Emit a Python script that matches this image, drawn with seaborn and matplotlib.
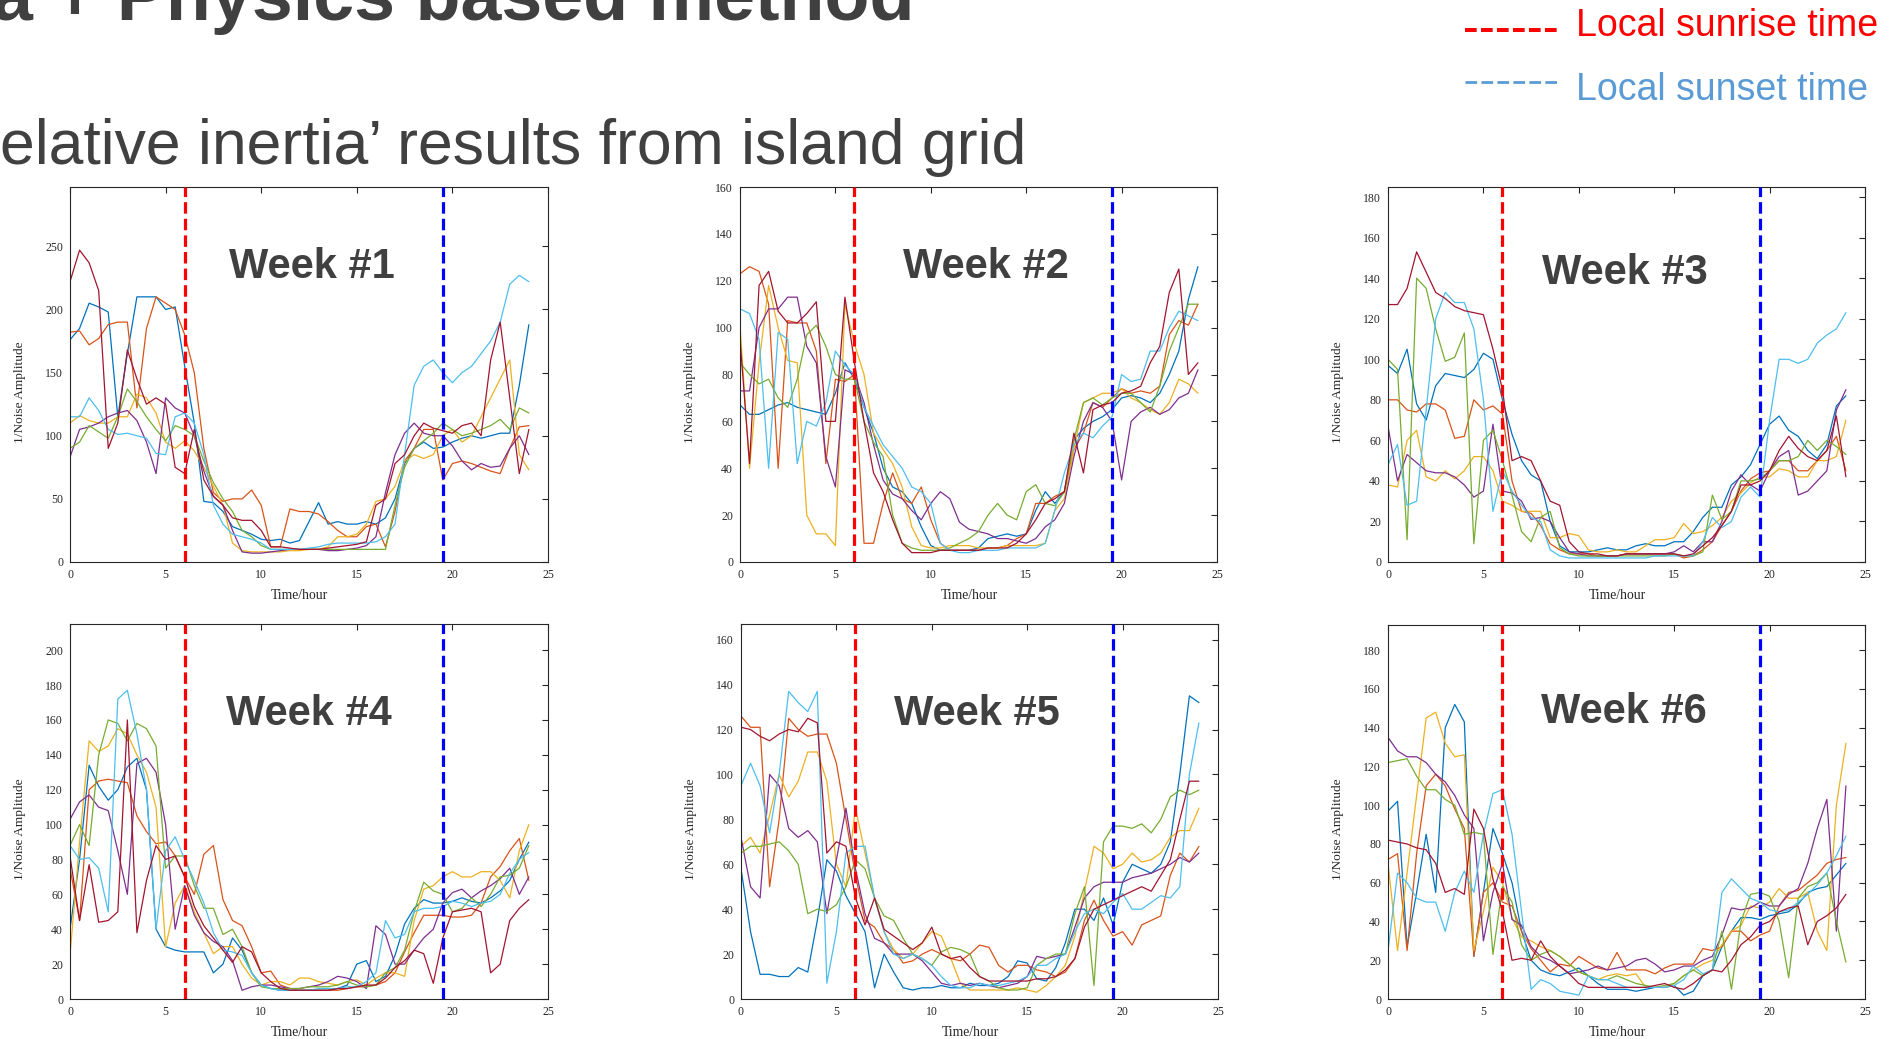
import numpy as np
import pandas as pd
import matplotlib
matplotlib.use("Agg")
import matplotlib.pyplot as plt
import seaborn as sns
from matplotlib.lines import Line2D

# ---------------- data ----------------
HOURS = np.arange(0, 24.01, 0.5)          # sampling grid (49 points)
SERIES_NAMES = ["blue", "orange", "yellow", "purple", "green", "lightblue", "darkred"]
SERIES_COLORS = ["#0072BD", "#D95319", "#EDB120", "#7E2F8E", "#77AC30", "#4DBEEE", "#A2142F"]
WEEK_LABELS = ["Week #1", "Week #2", "Week #3", "Week #4", "Week #5", "Week #6"]
Y_MAX = [297, 160, 185, 215, 167, 193]
Y_TICKS = [list(range(0, 251, 50)), list(range(0, 161, 20)), list(range(0, 181, 20)),
           list(range(0, 201, 20)), list(range(0, 161, 20)), list(range(0, 181, 20))]
X_TICKS = [0, 5, 10, 15, 20, 25]
SUNRISE_HOUR = 6.0
SUNSET_HOUR = 19.5

# Week 1
W1_BLUE = [176,185,205,202,198,115,165,210,210,210, 200,202,155,110,48,47,40,28,25,22,
           18,17,18,15,17,32,47,30,32,30, 30,32,30,35,50,78,90,95,90,91,
           95,98,100,98,100,102,102,140,188]
W1_ORANGE = [182,183,172,177,188,190,190,122,185,210, 205,200,180,150,90,55,48,50,50,57,
             45,12,12,42,40,40,38,32,25,20, 20,28,30,12,40,80,90,105,105,65,
             78,80,78,75,72,70,90,107,108]
W1_YELLOW = [110,116,112,110,110,115,115,133,130,118, 95,90,96,88,75,60,45,15,9,8,
             8,8,8,9,9,10,10,12,20,20, 22,30,48,50,60,80,85,82,85,100,
             105,95,100,115,130,145,160,85,73]
W1_PURPLE = [83,105,107,110,115,118,120,112,95,70, 130,122,118,100,72,52,45,25,8,7,
             7,8,9,10,10,10,10,9,9,10, 11,13,20,55,85,102,110,102,100,100,
             92,80,73,78,75,76,90,100,85]
W1_GREEN = [90,95,108,103,98,115,137,127,115,105, 96,108,105,100,80,63,50,40,25,20,
            13,10,10,10,10,10,10,10,10,10, 10,10,10,10,45,75,90,96,102,110,
            105,100,102,105,108,113,105,122,118]
W1_LIGHTBLUE = [115,115,130,120,105,101,102,100,98,86, 85,115,118,110,85,45,30,22,20,18,
                15,10,10,10,10,11,12,14,15,15, 15,15,16,20,30,85,140,155,160,150,
                142,150,155,165,175,190,220,227,222]
W1_DARKRED = [222,247,237,215,90,110,168,145,125,130, 125,75,70,105,65,52,45,35,33,33,
              25,12,12,11,10,10,10,11,12,13, 14,16,45,50,78,85,100,110,106,104,
              102,108,110,100,160,190,130,70,105]

# Week 2
W2_BLUE = [67,63,63,65,67,68,66,65,64,63, 72,85,78,66,55,40,32,30,25,15,
           7,5,5,5,5,6,10,11,12,11, 12,22,30,25,30,52,57,60,62,65,
           70,71,70,68,72,80,90,112,126]
W2_ORANGE = [123,126,124,110,40,103,102,102,90,42, 78,77,80,8,8,25,38,27,25,32,
             18,8,5,5,5,5,6,6,7,10, 12,25,25,28,30,48,55,68,66,70,
             74,72,73,72,75,97,103,101,110]
W2_YELLOW = [101,40,85,118,100,86,85,20,12,12, 7,110,93,80,55,48,42,32,15,7,
             6,6,7,7,7,6,6,6,7,7, 7,7,8,22,27,48,68,70,72,72,
             74,70,68,65,63,68,78,76,72]
W2_PURPLE = [73,73,100,108,108,113,113,92,85,45, 32,82,80,68,50,35,29,27,22,18,
             25,30,27,17,14,13,12,10,10,9, 8,10,15,18,25,45,60,68,66,60,
             35,60,64,66,63,65,70,72,82]
W2_GREEN = [85,80,76,78,70,66,78,97,101,92, 80,78,78,60,51,45,20,8,6,5,
            5,5,6,8,10,13,20,25,20,18, 30,33,25,24,30,52,68,70,67,70,
            72,72,68,64,75,90,100,110,110]
W2_LIGHTBLUE = [108,106,95,40,98,95,42,60,58,68, 90,84,80,66,58,50,45,40,32,30,
                25,8,5,4,4,5,5,5,6,6, 6,6,8,22,38,50,55,53,58,62,
                80,77,78,90,90,100,107,105,103]
W2_DARKRED = [95,42,118,124,107,102,102,106,111,60, 60,113,85,60,38,30,18,8,4,4,
              4,5,5,5,5,5,6,6,6,8, 12,18,25,27,30,55,38,65,67,68,
              72,73,75,85,92,115,125,80,85]

# Week 3
W3_BLUE = [97,93,105,78,70,87,93,92,91,95, 103,100,80,63,50,43,40,20,8,5,
           5,5,6,7,6,6,8,9,8,8, 10,10,15,22,27,27,38,42,48,58,
           68,72,65,62,55,51,58,77,82]
W3_ORANGE = [80,80,75,74,78,78,75,61,62,80, 75,77,73,40,25,24,18,9,6,4,
             4,4,3,3,3,4,4,4,4,4, 4,2,3,6,10,18,25,35,41,44,
             45,50,50,45,45,50,55,62,45]
W3_YELLOW = [38,37,60,65,42,40,45,41,45,52, 52,45,30,28,25,25,25,12,12,14,
             13,6,5,5,6,5,5,8,11,11, 12,19,14,15,18,22,30,34,39,42,
             42,46,45,42,42,50,50,52,70]
W3_PURPLE = [67,40,53,49,45,44,44,42,38,32, 35,68,35,34,30,21,22,20,12,5,
             4,3,3,3,3,4,4,4,4,4, 5,8,5,10,10,20,35,43,38,35,
             45,52,55,33,35,40,45,75,85]
W3_GREEN = [100,95,11,140,135,115,99,101,113,9, 60,65,50,33,15,10,22,25,7,4,
            3,3,3,3,3,3,3,3,3,3, 4,3,3,5,33,21,25,40,40,41,
            45,50,50,52,60,55,60,57,53]
W3_LIGHTBLUE = [48,58,28,30,75,120,133,128,128,115, 80,25,45,35,28,22,20,6,3,2,
                2,2,2,2,2,2,2,2,3,3, 3,3,3,10,22,17,20,32,37,32,
                70,100,100,98,100,108,112,115,123]
W3_DARKRED = [127,127,135,153,143,133,130,126,124,123, 122,105,85,50,52,50,40,30,28,10,
              5,4,4,3,3,4,4,4,4,4, 4,3,4,8,12,18,25,38,38,40,
              45,55,62,56,52,50,55,72,42]

# Week 4
W4_BLUE = [40,80,134,122,114,120,133,138,120,40, 30,28,27,27,27,15,20,35,28,15,
           8,6,5,5,5,5,5,5,6,8, 20,22,10,13,25,43,52,57,55,55,
           56,58,56,55,58,62,68,80,90]
W4_ORANGE = [75,45,120,125,126,125,124,105,96,89, 90,82,70,60,83,88,57,45,42,30,
             15,16,8,6,5,5,5,5,5,6, 7,7,8,10,15,27,38,48,48,48,
             47,47,48,55,70,76,85,92,68]
W4_YELLOW = [25,90,148,142,145,155,152,140,130,110, 30,55,65,50,38,26,30,30,20,12,
             8,10,10,8,12,12,10,9,8,10, 11,8,12,15,15,13,45,63,65,70,
             73,70,70,73,73,68,58,85,100]
W4_PURPLE = [103,113,117,110,108,85,60,135,138,130, 100,40,65,48,38,33,30,22,5,7,
             8,8,7,6,6,7,8,10,13,12, 10,6,42,37,20,20,28,35,40,55,
             61,63,58,62,65,69,75,60,70]
W4_GREEN = [88,100,88,140,160,158,148,158,155,145, 75,82,82,65,52,52,37,40,30,15,
            7,6,6,6,6,7,7,7,8,10, 8,7,8,15,18,28,50,67,62,60,
            50,52,58,53,60,70,71,75,88]
W4_LIGHTBLUE = [88,80,81,75,50,172,177,152,120,40, 85,93,80,68,55,38,28,27,25,15,
                8,6,5,5,5,5,6,6,6,7, 7,10,15,45,35,37,50,52,52,53,
                56,55,53,55,56,60,72,80,84]
W4_DARKRED = [82,45,77,44,45,50,160,38,68,88, 80,82,70,53,42,35,28,21,30,27,
              15,10,6,5,5,5,5,5,6,6, 7,8,8,12,18,22,28,26,9,35,
              50,51,52,50,15,20,45,52,57]

# Week 5
W5_BLUE = [58,30,11,11,10,10,14,12,35,62, 57,46,38,30,5,20,12,5,4,5,
           5,6,5,5,7,6,6,7,10,17, 16,9,8,14,25,40,40,35,45,33,
           52,60,58,56,60,70,100,135,132]
W5_ORANGE = [126,121,121,50,80,125,120,117,118,118, 105,80,55,35,32,25,22,16,17,20,
             22,20,18,17,20,24,23,15,12,15, 15,13,12,10,12,18,35,44,35,28,
             30,24,33,35,37,55,65,61,68]
W5_YELLOW = [68,72,65,82,100,90,97,110,110,97, 60,50,85,65,45,30,22,18,20,25,
             30,28,18,7,4,4,4,4,4,5, 4,3,6,10,15,28,48,68,65,58,
             60,65,61,62,65,72,75,75,85]
W5_PURPLE = [72,50,45,100,95,76,72,75,70,38, 62,85,58,38,27,25,20,20,20,17,
             12,7,6,7,6,7,6,5,6,7, 10,19,18,19,20,32,45,50,52,52,
             52,54,55,56,58,60,63,61,65]
W5_GREEN = [65,68,68,69,70,66,60,38,40,39, 42,50,62,58,45,37,35,27,20,18,
            15,21,23,22,20,10,8,5,4,4, 5,15,18,20,20,38,50,6,70,77,
            77,76,78,74,80,90,93,91,93]
W5_LIGHTBLUE = [95,105,95,74,100,137,132,128,137,7, 30,65,68,68,45,30,20,18,20,18,
                15,10,6,5,5,7,6,6,7,8, 10,15,15,18,20,30,38,40,38,43,
                47,40,40,43,46,45,50,100,123]
W5_DARKRED = [121,120,117,115,118,120,119,125,123,65, 70,68,45,33,45,31,28,25,22,25,
              32,20,18,19,14,10,8,8,8,8, 8,9,9,10,13,18,32,40,42,44,
              46,48,50,48,55,62,80,97,97]

# Week 6
W6_BLUE = [97,102,27,55,85,55,140,152,143,22, 55,88,75,60,35,20,15,13,12,14,
           16,12,8,5,5,5,4,5,6,6, 7,2,4,12,15,27,35,42,42,41,
           43,44,45,49,55,57,58,64,70]
W6_ORANGE = [72,75,25,75,110,116,110,98,88,22, 55,60,50,48,35,26,20,14,18,17,
             22,19,16,15,24,15,15,15,13,16, 18,18,18,26,25,27,35,35,30,33,
             35,48,55,56,60,64,70,72,73]
W6_YELLOW = [70,25,65,105,145,148,132,125,126,25, 45,68,60,42,32,30,27,25,22,18,
             14,12,10,12,13,12,13,6,6,6, 8,12,15,18,20,28,35,38,48,47,
             50,57,52,52,55,35,25,100,132]
W6_PURPLE = [135,128,125,125,122,116,112,105,95,88, 30,55,70,41,38,27,22,20,17,13,
             14,15,17,15,16,17,20,21,18,14, 15,17,17,20,22,33,47,46,47,50,
             48,48,54,57,70,88,103,35,110]
W6_GREEN = [122,123,124,115,108,108,103,100,85,86, 85,23,58,50,28,20,23,25,22,18,
            14,12,10,10,12,10,8,7,6,7, 8,12,15,12,15,35,5,40,54,55,
            53,40,11,52,58,60,65,40,19]
W6_LIGHTBLUE = [25,65,60,52,50,50,35,55,66,55, 85,106,108,85,45,5,10,8,4,3,
                2,12,10,10,8,6,6,6,6,6, 7,10,17,13,15,55,62,57,52,50,
                46,45,46,50,54,59,65,74,84]
W6_DARKRED = [82,81,80,78,77,70,55,57,54,98, 88,62,45,20,21,20,30,22,17,13,
              8,6,6,6,6,6,6,6,7,8, 6,5,8,12,15,14,20,28,32,38,
              40,45,47,48,28,40,43,47,54]

WEEKS = [
    [W1_BLUE, W1_ORANGE, W1_YELLOW, W1_PURPLE, W1_GREEN, W1_LIGHTBLUE, W1_DARKRED],
    [W2_BLUE, W2_ORANGE, W2_YELLOW, W2_PURPLE, W2_GREEN, W2_LIGHTBLUE, W2_DARKRED],
    [W3_BLUE, W3_ORANGE, W3_YELLOW, W3_PURPLE, W3_GREEN, W3_LIGHTBLUE, W3_DARKRED],
    [W4_BLUE, W4_ORANGE, W4_YELLOW, W4_PURPLE, W4_GREEN, W4_LIGHTBLUE, W4_DARKRED],
    [W5_BLUE, W5_ORANGE, W5_YELLOW, W5_PURPLE, W5_GREEN, W5_LIGHTBLUE, W5_DARKRED],
    [W6_BLUE, W6_ORANGE, W6_YELLOW, W6_PURPLE, W6_GREEN, W6_LIGHTBLUE, W6_DARKRED],
]

# ---------------- style ----------------
sns.set_style("white")
plt.rcParams["font.family"] = ["Liberation Serif", "DejaVu Serif"]

W, H = 1893, 1039
fig = plt.figure(figsize=(W / 100, H / 100), dpi=100)
fig.patch.set_facecolor("white")

# panel boxes in pixels: left, top, right, bottom
BOXES = [(70, 187, 548, 562), (740, 187, 1217, 562), (1388, 187, 1865, 562),
         (70, 624, 548, 999), (741, 624, 1218, 999), (1388, 625, 1865, 999)]
WEEK_POS = [(0.506, 0.757), (0.515, 0.756), (0.497, 0.742),
            (0.500, 0.731), (0.495, 0.731), (0.494, 0.739)]
palette = dict(zip(SERIES_NAMES, SERIES_COLORS))
AX_COLOR = "#262626"

for i, (l, t, r, b) in enumerate(BOXES):
    ax = fig.add_axes([l / W, 1 - b / H, (r - l) / W, (b - t) / H])
    df = pd.DataFrame({
        "hour": np.tile(HOURS, len(SERIES_NAMES)),
        "value": np.concatenate([np.asarray(s, dtype=float) for s in WEEKS[i]]),
        "series": np.repeat(SERIES_NAMES, len(HOURS)),
    })
    sns.lineplot(data=df, x="hour", y="value", hue="series", hue_order=SERIES_NAMES,
                 palette=palette, ax=ax, legend=False, linewidth=0.9,
                 estimator=None, sort=False)
    ax.axvline(SUNRISE_HOUR, color="#FF0000", lw=2.3, ls=(0, (3.6, 1.6)), zorder=5)
    ax.axvline(SUNSET_HOUR, color="#0000FF", lw=2.3, ls=(0, (3.6, 1.6)), zorder=5)
    ax.set_xlim(0, 25)
    ax.set_ylim(0, Y_MAX[i])
    ax.set_xticks(X_TICKS)
    ax.set_yticks(Y_TICKS[i])
    ax.tick_params(direction="in", length=4, width=0.8, top=True, right=True,
                   labelsize=8.5, colors=AX_COLOR, pad=5)
    for sp in ax.spines.values():
        sp.set_visible(True)
        sp.set_color(AX_COLOR)
        sp.set_linewidth(0.8)
    ax.set_xlabel("Time/hour", fontsize=9.8, color=AX_COLOR)
    ax.set_ylabel("1/Noise Amplitude", fontsize=9.6, color=AX_COLOR)
    ax.xaxis.set_label_coords(0.48, -0.072)
    ax.yaxis.set_label_coords(-0.092, 0.453)
    wx, wy = WEEK_POS[i]
    ax.text(wx, wy, WEEK_LABELS[i], transform=ax.transAxes, ha="center", va="baseline",
            fontsize=30, fontweight="bold", color="#404040", family="Liberation Sans",
            zorder=6)

# ---------------- slide texts ----------------
fig.text(-0.004, 1 - 20 / H, "a + Physics based method", fontsize=53, fontweight="bold",
         color="#404040", family="Liberation Sans", ha="left", va="baseline")
fig.text(0.0, 1 - 164 / H, "elative inertia\u2019 results from island grid", fontsize=45,
         color="#404040", family="Liberation Sans", ha="left", va="baseline")

# legend at top right
fig.add_artist(Line2D([1465 / W, 1557 / W], [1 - 30 / H, 1 - 30 / H], color="#FF0000",
                      lw=2.9, ls=(0, (2.9, 1.07)), transform=fig.transFigure))
fig.add_artist(Line2D([1465 / W, 1557 / W], [1 - 82 / H, 1 - 82 / H], color="#5B9BD5",
                      lw=2.0, ls=(0, (4.2, 1.55)), transform=fig.transFigure))
fig.text(1576 / W, 1 - 36 / H, "Local sunrise time", fontsize=27, color="#FF0000",
         family="Liberation Sans", ha="left", va="baseline")
fig.text(1576 / W, 1 - 100 / H, "Local sunset time", fontsize=27, color="#5B9BD5",
         family="Liberation Sans", ha="left", va="baseline")

fig.savefig("out.png", dpi=100, facecolor="white")
